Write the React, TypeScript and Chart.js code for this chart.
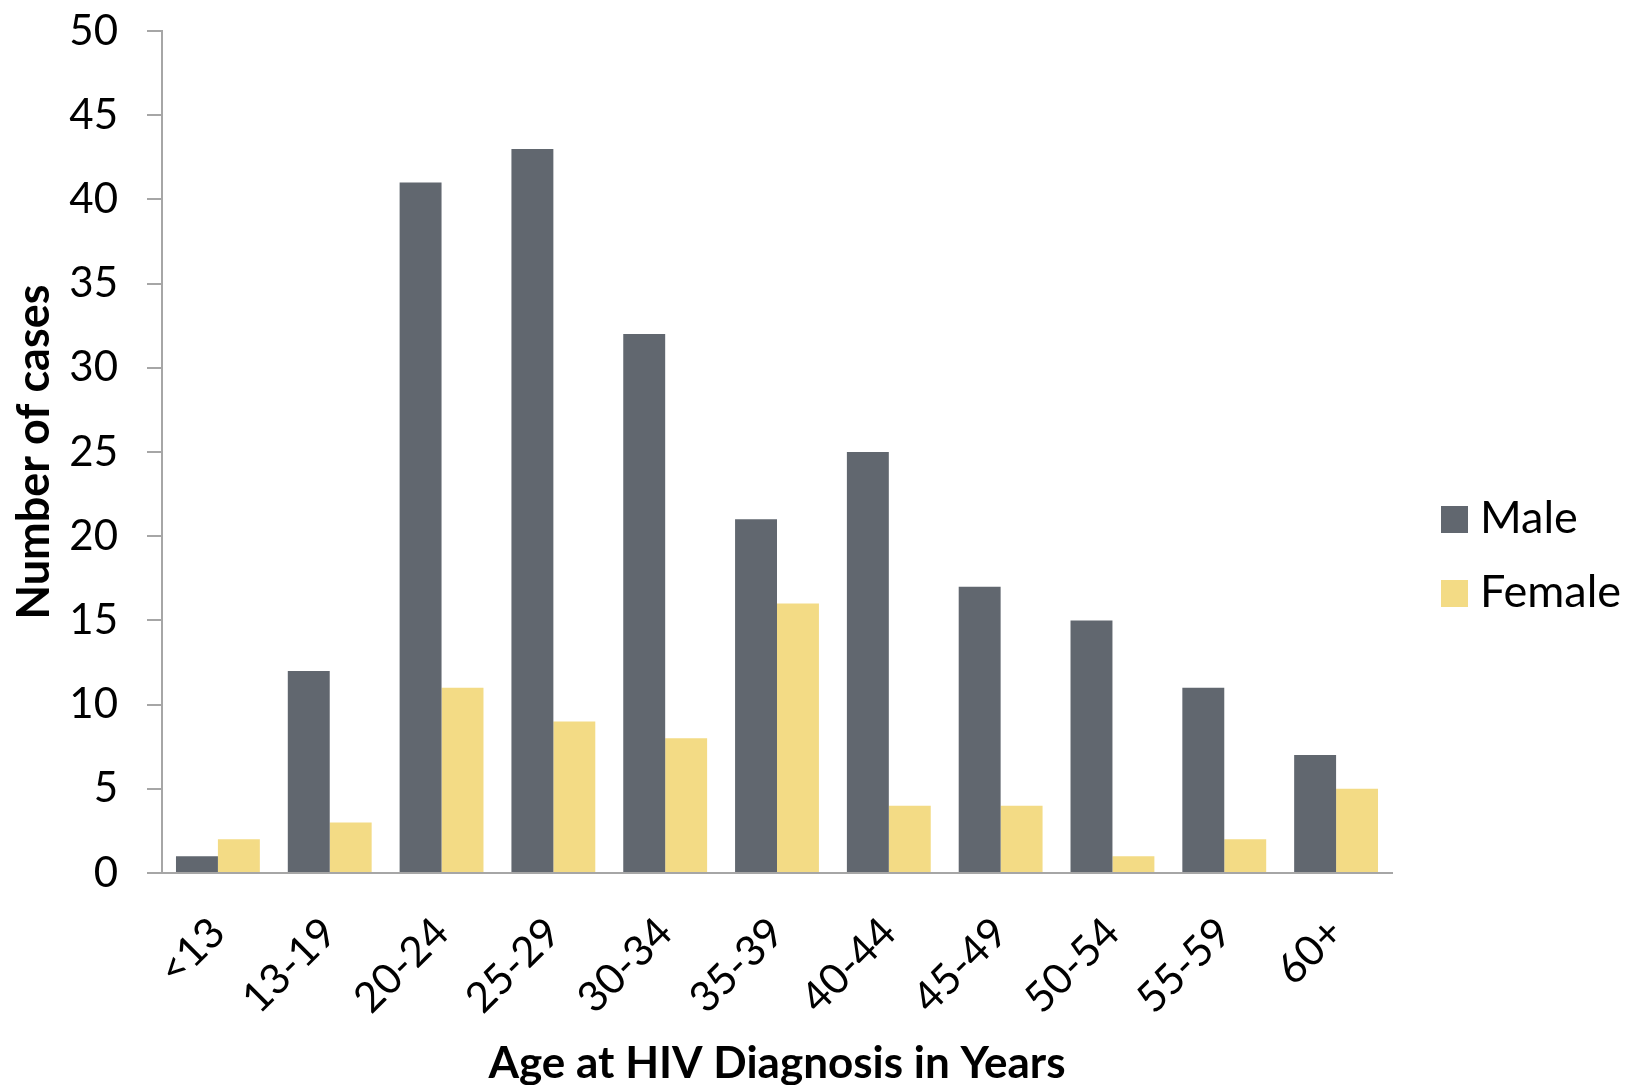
import React, { useEffect, useRef } from "react";
import { Chart, registerables } from "chart.js";

Chart.register(...registerables);

const categories = ["<13", "13-19", "20-24", "25-29", "30-34", "35-39", "40-44", "45-49", "50-54", "55-59", "60+"];
const maleValues = [1, 12, 41, 43, 32, 21, 25, 17, 15, 11, 7];
const femaleValues = [2, 3, 11, 9, 8, 16, 4, 4, 1, 2, 5];
const yTicks = [0, 5, 10, 15, 20, 25, 30, 35, 40, 45, 50];
const seriesNames = ["Male", "Female"];
const seriesColors = ["#61676F", "#F3DB85"];

const FONT = "Lato, 'Open Sans', sans-serif";
const AXIS_GRAY = "#A6A6A6";

const LAYOUT = { left: 7, top: 31, right: 233, bottom: 0 };
const Y_AXIS_WIDTH = 155;
const X_AXIS_HEIGHT = 212;

const customLegend = {
  id: "customLegend",
  afterDraw(chart: any) {
    const ctx = chart.ctx;
    const area = chart.chartArea;
    const box = 27;
    const boxX = area.right + 49;
    const textX = boxX + 39;
    const firstBottom = 533;
    const step = 74;
    ctx.save();
    ctx.font = `45px ${FONT}`;
    ctx.textBaseline = "alphabetic";
    ctx.textAlign = "left";
    chart.data.datasets.forEach((ds: any, i: number) => {
      const bottom = firstBottom + i * step;
      ctx.fillStyle = ds.backgroundColor;
      ctx.fillRect(boxX, bottom - box, box, box);
      ctx.fillStyle = "#000";
      ctx.fillText(ds.label, textX, bottom);
    });
    ctx.restore();
  },
};

export default function App() {
  const ref = useRef<HTMLCanvasElement | null>(null);

  useEffect(() => {
    document.body.style.margin = "0";
    document.body.style.overflow = "hidden";
    const canvas = ref.current;
    if (!canvas) return;
    const chart = new Chart(canvas, {
      type: "bar",
      data: {
        labels: categories,
        datasets: [
          {
            label: seriesNames[0],
            data: maleValues,
            backgroundColor: seriesColors[0],
            borderWidth: 0,
            categoryPercentage: 0.75,
            barPercentage: 1,
          },
          {
            label: seriesNames[1],
            data: femaleValues,
            backgroundColor: seriesColors[1],
            borderWidth: 0,
            categoryPercentage: 0.75,
            barPercentage: 1,
          },
        ],
      },
      plugins: [customLegend],
      options: {
        responsive: false,
        animation: false,
        layout: { padding: LAYOUT },
        plugins: {
          tooltip: { enabled: false },
          legend: { display: false },
        },
        scales: {
          x: {
            afterFit: (axis: any) => {
              axis.height = X_AXIS_HEIGHT;
            },
            grid: { display: false },
            border: { color: AXIS_GRAY, width: 2 },
            ticks: {
              color: "#000",
              font: { family: FONT, size: 42 },
              minRotation: 45,
              maxRotation: 45,
              padding: 27,
            },
            title: {
              display: true,
              text: "Age at HIV Diagnosis in Years",
              color: "#000",
              font: { family: FONT, size: 44, weight: "bold", lineHeight: 0.95 },
              padding: { top: 0, bottom: 0 },
            },
          },
          y: {
            min: 0,
            max: 50,
            afterBuildTicks: (axis: any) => {
              axis.ticks = yTicks.map((v) => ({ value: v }));
            },
            afterFit: (axis: any) => {
              axis.width = Y_AXIS_WIDTH;
              axis.paddingTop = 0;
              axis.paddingBottom = 0;
            },
            grid: {
              display: true,
              drawOnChartArea: false,
              drawTicks: true,
              tickLength: 15,
              color: AXIS_GRAY,
              lineWidth: 2,
            },
            border: { color: AXIS_GRAY, width: 2 },
            ticks: {
              color: "#000",
              font: { family: FONT, size: 42 },
              padding: 29,
            },
            title: {
              display: true,
              text: "Number of cases",
              color: "#000",
              font: { family: FONT, size: 45, weight: "bold" },
              padding: { top: 0, bottom: 0 },
            },
          },
        },
      },
    });
    return () => chart.destroy();
  }, []);

  return <canvas ref={ref} width={1625} height={1085} style={{ display: "block" }} />;
}
